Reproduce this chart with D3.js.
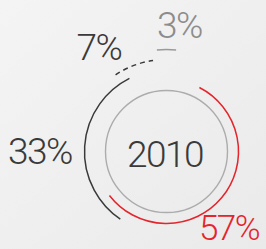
<!DOCTYPE html>
<html>
<head>
<meta charset="utf-8">
<script src="https://cdn.jsdelivr.net/npm/d3@7"></script>
<style>
  html, body { margin: 0; padding: 0; background: #efefef; }
  svg { display: block; }
  text { font-family: Roboto, "Liberation Sans", sans-serif; font-weight: 300; }
</style>
</head>
<body>
<svg width="266" height="249"></svg>
<script>
// data
const year = "2010";
const shares = [57, 33, 7, 3];
const shareLabels = ["57%", "33%", "7%", "3%"];

document.addEventListener("DOMContentLoaded", function() {
  const svg = d3.select("svg"),
        width = +svg.attr("width"),
        height = +svg.attr("height"),
        cx = 166.5, cy = 151.5;

  // soft background wash
  const defs = svg.append("defs");
  const grad = defs.append("linearGradient")
                   .attr("id", "bg")
                   .attr("x1", "0").attr("y1", "0")
                   .attr("x2", "1").attr("y2", "1");
  grad.append("stop").attr("offset", "0").attr("stop-color", "#f4f4f4");
  grad.append("stop").attr("offset", "1").attr("stop-color", "#eaeaea");
  svg.append("rect").attr("width", width).attr("height", height).attr("fill", "url(#bg)");

  const g = svg.append("g").attr("transform", `translate(${cx},${cy})`);

  // each ring sits a little further out
  const radius = d3.scaleLinear().domain([0, shares.length - 1]).range([72, 102]);
  const angle = d3.scaleLinear().domain([0, 100]).range([0, 2 * Math.PI]);

  // where each ring is centred around the dial (degrees, clockwise from top)
  const midDeg = [129.8, 273.7, 339, 0];
  const colors = ["#e5242c", "#3a3a3a", "#3a3a3a", "#9a9a9a"];
  const dashes = [null, null, "5,4", null];

  const rings = shares.map((v, i) => {
    const mid = midDeg[i] * Math.PI / 180,
          half = angle(v) / 2;
    return {value: v, i: i, start: mid - half, end: mid + half};
  });

  // open arc path (single stroke so dashes work)
  function ringPath(d) {
    const p = d3.path();
    p.arc(0, 0, radius(d.i), d.start - Math.PI / 2, d.end - Math.PI / 2);
    return p.toString();
  }

  // inner circle
  g.append("circle")
   .attr("r", 61)
   .attr("fill", "none")
   .attr("stroke", "#acacac")
   .attr("stroke-width", 1.4);

  g.selectAll(".ring")
   .data(rings)
   .enter().append("path")
   .attr("class", "ring")
   .attr("d", ringPath)
   .attr("fill", "none")
   .attr("stroke", d => colors[d.i])
   .attr("stroke-width", 1.5)
   .attr("stroke-dasharray", d => dashes[d.i]);

  // centre year
  g.append("text")
   .attr("x", -1.5)
   .attr("y", 15)
   .attr("text-anchor", "middle")
   .attr("font-size", 37)
   .attr("letter-spacing", -1.5)
   .attr("fill", "#3a3a3a")
   .text(year);

  // share labels
  const labelPos = [[229, 240], [40, 164], [99, 60], [179.5, 38]];
  const labelColors = ["#e5242c", "#3a3a3a", "#3a3a3a", "#8c8c8c"];

  svg.selectAll(".share")
     .data(shareLabels)
     .enter().append("text")
     .attr("class", "share")
     .attr("x", (d, i) => labelPos[i][0])
     .attr("y", (d, i) => labelPos[i][1])
     .attr("text-anchor", "middle")
     .attr("font-size", (d, i) => i === 0 ? 35 : 37)
     .attr("letter-spacing", -1.5)
     .attr("fill", (d, i) => labelColors[i])
     .text(d => d);
});
</script>
</body>
</html>
